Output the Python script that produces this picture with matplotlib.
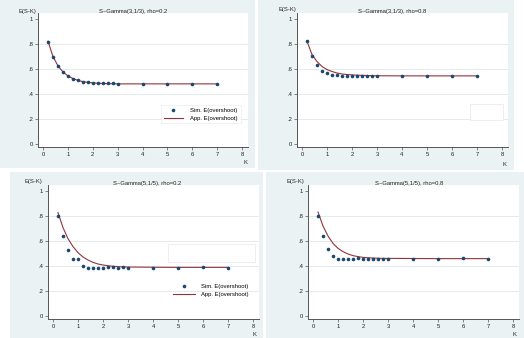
import matplotlib
matplotlib.use("Agg")
import matplotlib.pyplot as plt
from matplotlib.patches import Rectangle

plt.rcParams['font.family'] = ['Liberation Sans', 'DejaVu Sans']

# ---------------- data ----------------
k_values = [0.2, 0.4, 0.6, 0.8, 1.0, 1.2, 1.4, 1.6, 1.8, 2.0, 2.2, 2.4, 2.6, 2.8, 3.0, 4, 5, 6, 7]

titles = ["S~Gamma(3,1/3), rho=0.2", "S~Gamma(3,1/3), rho=0.8",
          "S~Gamma(5,1/5), rho=0.2", "S~Gamma(5,1/5), rho=0.8"]

sim_tl = [0.819, 0.699, 0.627, 0.576, 0.541, 0.522, 0.509, 0.499, 0.493, 0.488, 0.487, 0.485, 0.485, 0.485, 0.484, 0.480, 0.483, 0.480, 0.480]
app_tl = [0.822, 0.700, 0.626, 0.577, 0.545, 0.524, 0.509, 0.499, 0.493, 0.489, 0.486, 0.484, 0.483, 0.482, 0.481, 0.481, 0.481, 0.481, 0.481]

sim_tr = [0.821, 0.701, 0.632, 0.587, 0.565, 0.555, 0.552, 0.544, 0.544, 0.544, 0.544, 0.541, 0.547, 0.541, 0.547, 0.547, 0.547, 0.541, 0.544]
app_tr = [0.822, 0.715, 0.660, 0.620, 0.595, 0.580, 0.568, 0.560, 0.556, 0.553, 0.551, 0.549, 0.548, 0.547, 0.546, 0.545, 0.545, 0.545, 0.545]

sim_bl = [0.800, 0.637, 0.525, 0.459, 0.459, 0.397, 0.387, 0.384, 0.384, 0.387, 0.389, 0.389, 0.387, 0.389, 0.387, 0.387, 0.387, 0.389, 0.381]
app_bl = [0.827, 0.707, 0.619, 0.555, 0.507, 0.472, 0.448, 0.429, 0.416, 0.408, 0.402, 0.398, 0.395, 0.393, 0.392, 0.390, 0.389, 0.389, 0.389]

sim_br = [0.800, 0.640, 0.533, 0.480, 0.459, 0.453, 0.453, 0.453, 0.461, 0.459, 0.459, 0.459, 0.459, 0.459, 0.459, 0.459, 0.456, 0.461, 0.456]
app_br = [0.832, 0.720, 0.640, 0.581, 0.541, 0.515, 0.496, 0.483, 0.475, 0.469, 0.466, 0.464, 0.462, 0.461, 0.461, 0.460, 0.459, 0.459, 0.459]

y_ticks = [0, 0.2, 0.4, 0.6, 0.8, 1.0]
y_ticklabels = ["0", ".2", ".4", ".6", ".8", "1"]
x_ticks = [0, 1, 2, 3, 4, 5, 6, 7, 8]

sim_label = "Sim. E(overshoot)"
app_label = "App. E(overshoot)"

# ---------------- style ----------------
W, H = 524, 338
BG = "#eaf2f3"
NAVY = "#1a476f"
MAROON = "#90353b"
GRID = "#e1e7e9"
AX = "#555555"
FS = 4.2

fig = plt.figure(figsize=(W / 100, H / 100), dpi=100)
fig.patch.set_facecolor("white")


def px_rect(x0, y0, x1, y1):
    return (x0 / W, 1 - y1 / H, (x1 - x0) / W, (y1 - y0) / H)


# panel backgrounds (pixels)
panels = [(0, 0, 255, 168), (258, 0, 514, 170), (10, 172, 263, 338), (266, 172, 524, 338)]
for (x0, y0, x1, y1) in panels:
    fig.patches.append(Rectangle((x0 / W, 1 - y1 / H), (x1 - x0) / W, (y1 - y0) / H,
                                 transform=fig.transFigure, facecolor=BG, edgecolor="none", zorder=-5))

# axes geometry: x pixel of tick 0, px/unit, y pixel of 0, px/unit
geoms = [(43, 24.875, 144, 125), (302, 25, 144, 125), (53, 25, 316, 125), (313, 25, 316, 125)]
XL = (-0.2, 8.25)
YL = (-0.025, 1.05)

title_pos = [(133, 11), (392, 11), (147, 184), (409, 183)]
ylab_pos = [(27, 11), (287, 10), (33, 181), (295, 182)]
klab_pos = [(245, 163), (504, 164), (254, 334), (514, 334)]

sims = [sim_tl, sim_tr, sim_bl, sim_br]
apps = [app_tl, app_tr, app_bl, app_br]

axes = []
for i in range(4):
    px0, sx, py0, sy = geoms[i]
    left = px0 + XL[0] * sx
    right = px0 + XL[1] * sx
    bottom = py0 - YL[0] * sy
    top = py0 - YL[1] * sy
    ax = fig.add_axes(px_rect(left, top, right, bottom))
    ax.set_zorder(1)
    ax.set_facecolor("white")
    ax.set_xlim(*XL)
    ax.set_ylim(*YL)
    for s in ["top", "right"]:
        ax.spines[s].set_visible(False)
    for s in ["left", "bottom"]:
        ax.spines[s].set_color(AX)
        ax.spines[s].set_linewidth(0.7)
    ax.set_yticks(y_ticks)
    ax.set_yticklabels(y_ticklabels)
    ax.set_xticks(x_ticks)
    ax.tick_params(axis="both", length=2, width=0.5, color=AX, labelsize=FS, pad=1.5, labelcolor="#222222")
    for yv in y_ticks[1:-1]:
        ax.axhline(yv, color=GRID, lw=0.6, zorder=0.5)
    ax.plot(k_values, apps[i], color=MAROON, lw=0.8, zorder=2, label=app_label)
    ax.plot(k_values, sims[i], linestyle="none", marker="o", markersize=2.6,
            color=NAVY, markeredgewidth=0, zorder=3, label=sim_label)
    axes.append(ax)
    tx, ty = title_pos[i]
    fig.text(tx / W, 1 - ty / H, titles[i], ha="center", va="center", fontsize=FS, color="#222222")
    lx, ly = ylab_pos[i]
    fig.text(lx / W, 1 - ly / H, "E(S-K)", ha="center", va="center", fontsize=FS, color="#222222")
    kx, ky = klab_pos[i]
    fig.text(kx / W, 1 - ky / H, "K", ha="center", va="center", fontsize=FS, color="#222222")

# legends
order = [1, 0]
handles, labels = axes[0].get_legend_handles_labels()
leg = axes[0].legend([handles[j] for j in order], [labels[j] for j in order],
                     loc="center", bbox_to_anchor=(0.571, 0.172, 0.41, 0.149), mode="expand",
                     fontsize=FS, frameon=True, fancybox=False, handlelength=3.2,
                     borderpad=0.5, labelspacing=0.5, handletextpad=1.2)
leg.get_frame().set_edgecolor("#e4e8ea")
leg.get_frame().set_linewidth(0.5)

# empty box in top-right panel
axes[1].add_patch(Rectangle((0.82, 0.2), 0.156, 0.12, transform=axes[1].transAxes,
                            facecolor="white", edgecolor="#e4e8ea", lw=0.5, zorder=1))

# bottom-left: empty box + frameless legend
axes[2].add_patch(Rectangle((0.569, 0.425), 0.412, 0.135, transform=axes[2].transAxes,
                            facecolor="white", edgecolor="#e4e8ea", lw=0.5, zorder=1))
handles, labels = axes[2].get_legend_handles_labels()
leg2 = axes[2].legend([handles[j] for j in order], [labels[j] for j in order],
                      loc="center", bbox_to_anchor=(0.57, 0.13, 0.41, 0.16), mode="expand",
                      fontsize=FS, frameon=False, handlelength=3.8,
                      borderpad=0.3, labelspacing=0.5, handletextpad=1.0)

fig.savefig("out.png", dpi=100, facecolor=fig.get_facecolor())
